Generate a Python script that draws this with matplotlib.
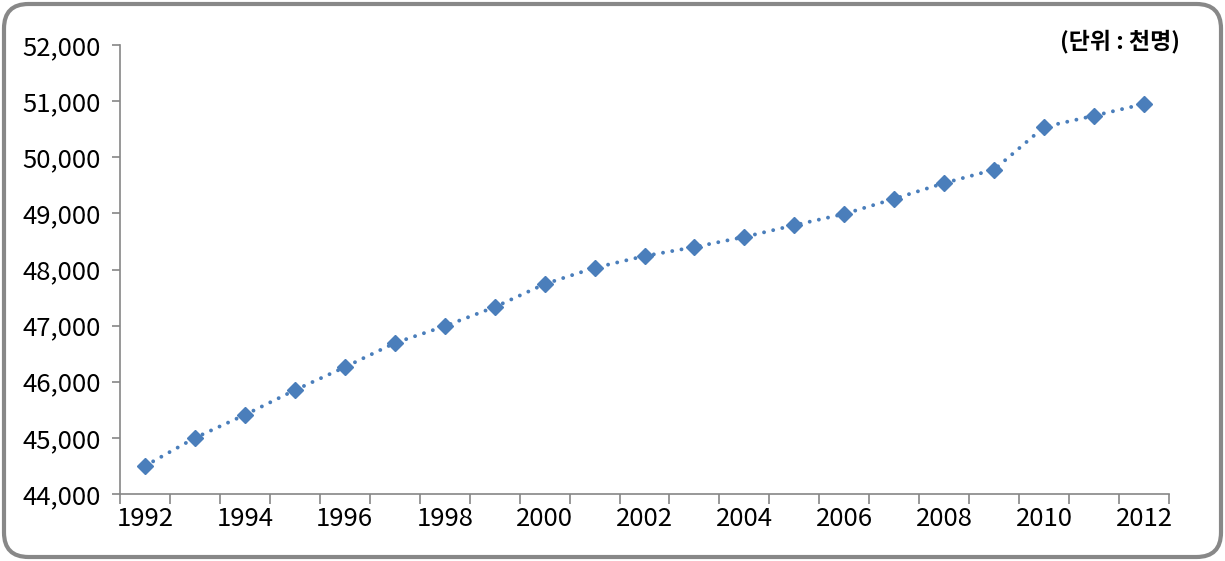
import matplotlib
matplotlib.use("Agg")
import matplotlib.pyplot as plt
from matplotlib.patches import FancyBboxPatch
from matplotlib.ticker import FuncFormatter

# Population by year (thousand persons)
YEARS = list(range(1992, 2013))
POPULATION = [
    44500, 45000, 45410, 45850, 46260, 46690, 46990, 47330, 47740, 48030,
    48240, 48400, 48580, 48790, 48990, 49260, 49540, 49780, 50540, 50740,
    50950,
]
Y_TICKS = list(range(44000, 52001, 1000))
UNIT_LABEL = "(단위 : 천명)"

LINE_COLOR = "#4A7EBB"
AXIS_COLOR = "#868686"

plt.rcParams["font.family"] = ["Noto Sans CJK KR", "DejaVu Sans"]

fig = plt.figure(figsize=(12.25, 5.61), dpi=100)
ax = fig.add_axes([120 / 1225, 1 - 494 / 561, (1169 - 120) / 1225, (494 - 45) / 561])

# rounded outer frame
frame = FancyBboxPatch(
    (4 / 1225, 4 / 561), 1 - 8 / 1225, 1 - 8 / 561,
    boxstyle="round,pad=0,rounding_size=0.02",
    transform=fig.transFigure, facecolor="white", edgecolor="#888888",
    linewidth=3, zorder=-10, mutation_aspect=1225 / 561,
)
fig.patches.append(frame)

xs = list(range(len(YEARS)))
ax.plot(
    xs, POPULATION, color=LINE_COLOR, linestyle=(0, (0.01, 2.4)), linewidth=2.8,
    dash_capstyle="round",
    marker="D", markersize=8.5, markerfacecolor=LINE_COLOR,
    markeredgecolor=LINE_COLOR, clip_on=False, zorder=3,
)

ax.set_xlim(-0.5, len(YEARS) - 0.5)
ax.set_ylim(Y_TICKS[0], Y_TICKS[-1])

# category boundaries carry tick marks, every other category gets a label
ax.set_xticks([i - 0.5 for i in range(len(YEARS) + 1)])
ax.set_xticklabels([])
ax.set_xticks(xs[::2], minor=True)
ax.set_xticklabels([str(y) for y in YEARS[::2]], minor=True)
ax.tick_params(axis="x", which="major", direction="out", length=7,
               color=AXIS_COLOR, width=1.2)
ax.tick_params(axis="x", which="minor", length=0, pad=9, labelsize=18.5)

ax.set_yticks(Y_TICKS)
ax.yaxis.set_major_formatter(FuncFormatter(lambda v, _: f"{int(v):,}"))
ax.tick_params(axis="y", direction="out", length=6, color=AXIS_COLOR,
               width=1.2, labelsize=18.5, pad=8)

for side in ("top", "right"):
    ax.spines[side].set_visible(False)
for side in ("left", "bottom"):
    ax.spines[side].set_color(AXIS_COLOR)
    ax.spines[side].set_linewidth(1.2)

fig.text(1180 / 1225, 1 - 42 / 561, UNIT_LABEL, ha="right", va="center",
         fontsize=16.5, fontweight="bold")

fig.savefig("out.png", dpi=100)
